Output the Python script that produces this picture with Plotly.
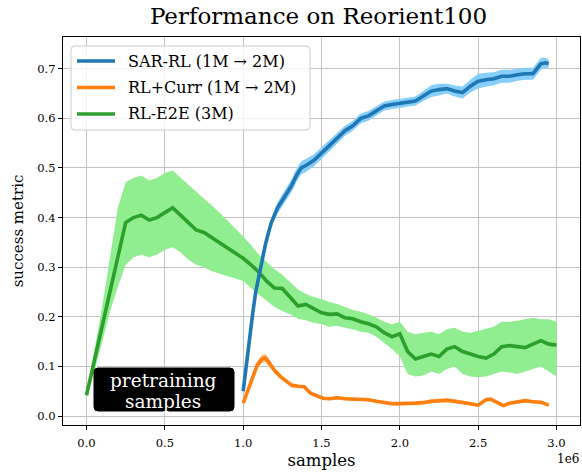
import plotly.graph_objects as go

# ---------------- data (x in units of 1e6 samples) ----------------
xg = [0.00,0.05,0.10,0.15,0.20,0.25,0.30,0.35,0.40,0.45,0.50,0.55,0.60,0.65,0.70,0.75,0.80,0.85,0.90,0.95,
      1.00,1.05,1.10,1.15,1.20,1.25,1.30,1.35,1.40,1.45,1.50,1.55,1.60,1.65,1.70,1.75,1.80,1.85,1.90,1.95,
      2.00,2.05,2.10,2.15,2.20,2.25,2.30,2.35,2.40,2.45,2.50,2.55,2.60,2.65,2.70,2.75,2.80,2.85,2.90,2.95,3.00]
e2e_mean = [0.042,0.110,0.180,0.250,0.320,0.390,0.400,0.405,0.395,0.400,0.410,0.420,0.405,0.390,0.375,0.370,0.360,0.350,0.338,0.328,
            0.318,0.305,0.290,0.272,0.258,0.257,0.240,0.222,0.225,0.216,0.208,0.205,0.206,0.198,0.196,0.190,0.186,0.180,0.168,0.160,
            0.166,0.130,0.115,0.120,0.125,0.120,0.135,0.140,0.130,0.125,0.120,0.117,0.125,0.140,0.142,0.140,0.138,0.145,0.152,0.145,0.143]
e2e_upper = [0.045,0.130,0.220,0.320,0.420,0.472,0.480,0.485,0.475,0.480,0.490,0.495,0.480,0.465,0.452,0.438,0.425,0.410,0.395,0.378,
             0.362,0.345,0.325,0.310,0.296,0.285,0.270,0.255,0.246,0.240,0.236,0.230,0.226,0.220,0.214,0.210,0.205,0.198,0.190,0.185,
             0.190,0.170,0.165,0.168,0.170,0.165,0.175,0.178,0.170,0.168,0.172,0.175,0.180,0.190,0.190,0.192,0.195,0.198,0.195,0.195,0.190]
e2e_lower = [0.040,0.090,0.150,0.210,0.260,0.305,0.320,0.325,0.320,0.325,0.335,0.340,0.330,0.315,0.305,0.300,0.292,0.287,0.282,0.278,
             0.272,0.258,0.245,0.232,0.220,0.212,0.205,0.196,0.193,0.188,0.185,0.180,0.182,0.178,0.175,0.170,0.168,0.160,0.148,0.135,
             0.120,0.085,0.080,0.082,0.090,0.085,0.095,0.100,0.085,0.080,0.078,0.080,0.085,0.090,0.088,0.085,0.090,0.095,0.100,0.090,0.080]

xs = [1.00,1.02,1.04,1.06,1.08,1.10,1.12,1.14,1.16,1.18,1.20,1.22,1.25,1.28,1.31,1.34,1.37,1.40,1.45,1.50,1.55,1.60,1.65,1.70,1.75,1.80,
      1.85,1.90,1.95,2.00,2.05,2.10,2.15,2.20,2.25,2.30,2.35,2.40,2.45,2.50,2.55,2.60,2.65,2.70,2.75,2.80,2.85,2.90,2.93,2.95]
sar_mean = [0.050,0.105,0.158,0.205,0.250,0.283,0.315,0.343,0.368,0.390,0.405,0.420,0.435,0.450,0.465,0.485,0.500,0.505,0.515,0.530,0.545,0.560,0.575,0.585,0.600,0.605,
            0.615,0.625,0.628,0.630,0.632,0.635,0.645,0.655,0.658,0.660,0.655,0.652,0.665,0.675,0.678,0.680,0.685,0.685,0.688,0.690,0.690,0.710,0.712,0.710]
sar_upper = [0.052,0.108,0.162,0.210,0.256,0.290,0.323,0.352,0.378,0.400,0.415,0.431,0.447,0.462,0.478,0.498,0.513,0.518,0.527,0.542,0.556,0.571,0.585,0.595,0.610,0.615,
             0.625,0.634,0.637,0.639,0.641,0.644,0.655,0.667,0.670,0.670,0.666,0.664,0.678,0.690,0.692,0.693,0.698,0.698,0.700,0.702,0.702,0.722,0.722,0.718]
sar_lower = [0.048,0.102,0.154,0.200,0.244,0.276,0.307,0.334,0.358,0.380,0.395,0.409,0.423,0.438,0.452,0.472,0.487,0.492,0.503,0.518,0.534,0.549,0.565,0.575,0.590,0.595,
             0.605,0.616,0.619,0.621,0.623,0.626,0.635,0.643,0.646,0.650,0.644,0.640,0.652,0.660,0.664,0.667,0.672,0.672,0.676,0.678,0.678,0.698,0.702,0.702]

xc = [1.00,1.03,1.06,1.09,1.12,1.14,1.16,1.18,1.20,1.24,1.27,1.31,1.35,1.39,1.43,1.47,1.51,1.55,1.60,1.65,1.70,1.75,1.80,1.85,
      1.90,1.95,2.00,2.05,2.10,2.15,2.20,2.25,2.30,2.35,2.40,2.45,2.50,2.55,2.58,2.62,2.66,2.70,2.75,2.80,2.85,2.90,2.95]
curr_mean = [0.026,0.052,0.080,0.103,0.115,0.117,0.110,0.100,0.092,0.079,0.072,0.062,0.060,0.059,0.046,0.040,0.036,0.035,0.037,0.035,0.034,0.034,0.033,0.030,
             0.027,0.025,0.025,0.025,0.026,0.027,0.030,0.031,0.032,0.030,0.028,0.025,0.022,0.033,0.034,0.028,0.021,0.026,0.028,0.031,0.029,0.028,0.022]
curr_upper = [0.028,0.056,0.086,0.110,0.123,0.125,0.118,0.107,0.098,0.084,0.076,0.066,0.063,0.062,0.049,0.043,0.039,0.038,0.040,0.038,0.037,0.037,0.036,0.033,
              0.030,0.028,0.028,0.028,0.029,0.030,0.034,0.035,0.036,0.034,0.031,0.028,0.025,0.036,0.037,0.031,0.024,0.029,0.031,0.034,0.032,0.031,0.025]
curr_lower = [0.024,0.048,0.074,0.096,0.107,0.109,0.102,0.093,0.086,0.074,0.068,0.058,0.057,0.056,0.043,0.037,0.033,0.032,0.034,0.032,0.031,0.031,0.030,0.027,
              0.024,0.022,0.022,0.022,0.023,0.024,0.026,0.027,0.028,0.026,0.025,0.022,0.019,0.030,0.031,0.025,0.018,0.023,0.025,0.028,0.026,0.025,0.019]

series_names = ["SAR-RL (1M \u2192 2M)", "RL+Curr (1M \u2192 2M)", "RL-E2E (3M)"]
line_colors = ["#1f77b4", "#ff7f0e", "#2ca02c"]
band_colors = ["#87cefa", "#ffbb78", "#90ee90"]
x_ticks = [0.0, 0.5, 1.0, 1.5, 2.0, 2.5, 3.0]
y_ticks = [0.0, 0.1, 0.2, 0.3, 0.4, 0.5, 0.6, 0.7]

FONT = "DejaVu Serif"
W, H = 582, 474
ML, MR, MT, MB = 63, 2, 37, 49
PW, PH = W - ML - MR, H - MT - MB

def px(xp):
    return (xp - ML) / PW

def py(yp):
    return 1 - (yp - MT) / PH

fig = go.Figure()

def add_series(x, lo, hi, mean, name, lc, bc):
    fig.add_trace(go.Scatter(x=x, y=lo, mode="lines", line=dict(width=0, color=bc),
                             showlegend=False, hoverinfo="skip"))
    fig.add_trace(go.Scatter(x=x, y=hi, mode="lines", line=dict(width=0, color=bc),
                             fill="tonexty", fillcolor=bc, showlegend=False, hoverinfo="skip"))
    fig.add_trace(go.Scatter(x=x, y=mean, mode="lines", line=dict(width=3.6, color=lc),
                             name=name, showlegend=False))

add_series(xg, e2e_lower, e2e_upper, e2e_mean, series_names[2], line_colors[2], band_colors[2])
add_series(xc, curr_lower, curr_upper, curr_mean, series_names[1], line_colors[1], band_colors[1])
add_series(xs, sar_lower, sar_upper, sar_mean, series_names[0], line_colors[0], band_colors[0])

shapes = []
annotations = []

def rounded_rect(x0, y0, x1, y1, r, fill, line_color, line_width, opacity=1.0):
    rx = r / PW
    ry = r / PH
    X0, X1 = px(x0), px(x1)
    Y0, Y1 = py(y1), py(y0)
    path = (f"M {X0+rx},{Y0} L {X1-rx},{Y0} Q {X1},{Y0} {X1},{Y0+ry} "
            f"L {X1},{Y1-ry} Q {X1},{Y1} {X1-rx},{Y1} L {X0+rx},{Y1} "
            f"Q {X0},{Y1} {X0},{Y1-ry} L {X0},{Y0+ry} Q {X0},{Y0} {X0+rx},{Y0} Z")
    return dict(type="path", xref="paper", yref="paper", path=path,
                fillcolor=fill, line=dict(color=line_color, width=line_width),
                opacity=opacity, layer="above")

# legend box
shapes.append(rounded_rect(71, 46, 310, 130, 4, "rgba(255,255,255,0.8)", "#cccccc", 1))
legend_y = [61, 87.5, 114]
for i in range(3):
    shapes.append(dict(type="line", xref="paper", yref="paper",
                       x0=px(77), x1=px(115), y0=py(legend_y[i]), y1=py(legend_y[i]),
                       line=dict(color=line_colors[i], width=3.6), layer="above"))
    annotations.append(dict(x=px(126), y=py(legend_y[i]), xref="paper", yref="paper",
                            text=series_names[i], showarrow=False, xanchor="left", yanchor="middle",
                            font=dict(family=FONT, size=16, color="#000")))

# pretraining samples label
shapes.append(rounded_rect(94, 368, 234, 411, 4, "#000000", "#000000", 1))
annotations.append(dict(x=px(163), y=py(391.5), xref="paper", yref="paper", text="pretraining",
                        showarrow=False, xanchor="center", yanchor="bottom", borderpad=0,
                        font=dict(family=FONT, size=18.5, color="#fff")))
annotations.append(dict(x=px(163), y=py(389.5), xref="paper", yref="paper", text="samples",
                        showarrow=False, xanchor="center", yanchor="top", borderpad=0,
                        font=dict(family=FONT, size=18.5, color="#fff")))

# offset text
annotations.append(dict(x=px(581), y=py(459), xref="paper", yref="paper", text="1e6",
                        showarrow=False, xanchor="right", yanchor="middle",
                        font=dict(family=FONT, size=12, color="#000")))

fig.update_layout(
    width=W, height=H,
    margin=dict(l=ML, r=MR, t=MT, b=MB),
    paper_bgcolor="white", plot_bgcolor="white",
    font=dict(family=FONT, color="#000"),
    title=dict(text="Performance on Reorient100", xref="container", x=318.5 / W, xanchor="center",
               y=1 - 16 / H, yanchor="middle", font=dict(family=FONT, size=23, color="#000")),
    showlegend=False,
    shapes=shapes,
    annotations=annotations,
)
fig.update_xaxes(
    range=[-0.15, 3.15], tickvals=x_ticks, tickformat=".1f",
    showgrid=True, gridcolor="#c4c4c4", gridwidth=1,
    showline=True, linecolor="black", linewidth=1.2, mirror=True,
    ticks="outside", ticklen=4, tickcolor="black", ticklabelstandoff=3,
    tickfont=dict(family=FONT, size=11.5), zeroline=False,
    title=dict(text="samples", font=dict(family=FONT, size=16.5), standoff=5),
)
fig.update_yaxes(
    range=[-0.018, 0.764], tickvals=y_ticks, tickformat=".1f",
    showgrid=True, gridcolor="#c4c4c4", gridwidth=1,
    showline=True, linecolor="black", linewidth=1.2, mirror=True,
    ticks="outside", ticklen=4, tickcolor="black",
    tickfont=dict(family=FONT, size=11.5), zeroline=False,
    title=dict(text="success metric", font=dict(family=FONT, size=15), standoff=10),
)

fig.write_html("out.html")
